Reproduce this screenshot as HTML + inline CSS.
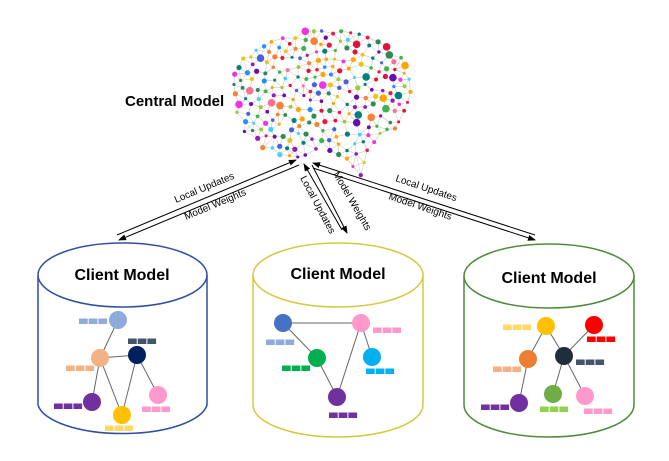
<!DOCTYPE html>
<html><head><meta charset="utf-8"><style>
html,body{margin:0;padding:0;background:#fff;width:669px;height:461px;overflow:hidden}
svg{display:block;font-family:"Liberation Sans",sans-serif}
</style></head><body>
<svg id="s" width="669" height="461" viewBox="0 0 669 461" xmlns="http://www.w3.org/2000/svg">
<defs>
<marker id="ah" markerWidth="8" markerHeight="8" refX="7" refY="4" orient="auto" markerUnits="userSpaceOnUse"><path d="M0,1 L8,4 L0,7 Z" fill="#000"/></marker>
</defs>
<g id="brain"></g>
<text x="125" y="106" font-size="15" font-weight="bold">Central Model</text>

<g stroke="#000" stroke-width="1" fill="none">
<line x1="117" y1="235" x2="296" y2="160" marker-end="url(#ah)"/>
<line x1="299" y1="165" x2="119" y2="240" marker-end="url(#ah)"/>
<line x1="342" y1="230" x2="304" y2="164" marker-end="url(#ah)"/>
<line x1="312" y1="165" x2="347" y2="233" marker-end="url(#ah)"/>
<line x1="535" y1="235" x2="313" y2="163" marker-end="url(#ah)"/>
<line x1="313" y1="168" x2="535" y2="240" marker-end="url(#ah)"/>
</g>
<g font-size="10" fill="#000">
<text transform="translate(176,203) rotate(-22.7)">Local Updates</text>
<text transform="translate(186,220) rotate(-22.7)">Model Weights</text>
<text transform="translate(300,178) rotate(62)">Local Updates</text>
<text transform="translate(333,174) rotate(60)">Model Weights</text>
<text transform="translate(395,181) rotate(18.5)">Local Updates</text>
<text transform="translate(388,199) rotate(18.5)">Model Weights</text>
</g>

<g fill="#fff" stroke-width="1.5">
<path d="M38,275 V405 A85,32 0 0 0 207,405 V275" stroke="#2f4f9f"/>
<ellipse cx="122.5" cy="275" rx="84.5" ry="32" stroke="#2f4f9f"/>
<path d="M253,275 V405 A85,32 0 0 0 423,405 V275" stroke="#d8c840"/>
<ellipse cx="338" cy="275" rx="85" ry="32" stroke="#d8c840"/>
<path d="M464,276 V405 A85,32 0 0 0 634,405 V276" stroke="#4f8a3a"/>
<ellipse cx="549" cy="276" rx="85" ry="32" stroke="#4f8a3a"/>
</g>
<g font-size="16" font-weight="bold" text-anchor="middle">
<text x="122" y="280">Client Model</text>
<text x="338" y="279">Client Model</text>
<text x="549" y="283">Client Model</text>
</g>

<g stroke="#666" stroke-width="1">
<line x1="118" y1="320" x2="100" y2="358"/><line x1="100" y1="358" x2="137" y2="355"/>
<line x1="100" y1="358" x2="92" y2="402"/><line x1="100" y1="358" x2="122" y2="415"/>
<line x1="137" y1="355" x2="122" y2="415"/><line x1="137" y1="355" x2="158" y2="395"/>
<line x1="283" y1="323" x2="361" y2="323"/><line x1="283" y1="323" x2="317" y2="358"/>
<line x1="317" y1="358" x2="337" y2="397"/><line x1="361" y1="323" x2="337" y2="397"/>
<line x1="361" y1="323" x2="372" y2="357"/>
<line x1="546" y1="326" x2="528" y2="359"/><line x1="546" y1="326" x2="564" y2="356"/>
<line x1="594" y1="325" x2="564" y2="356"/><line x1="528" y1="359" x2="519" y2="403"/>
<line x1="564" y1="356" x2="553" y2="394"/><line x1="564" y1="356" x2="585" y2="396"/>
</g>
<g id="nodes"></g>
</svg>
<script>
var NS="http://www.w3.org/2000/svg";
function el(p,t,a){var e=document.createElementNS(NS,t);for(var k in a)e.setAttribute(k,a[k]);p.appendChild(e);return e;}
var nodes=document.getElementById('nodes');
var N=[[118,320,'#8faadc'],[100,358,'#f4b183'],[137,355,'#002060'],[92,402,'#7030a0'],[122,415,'#ffc000'],[158,395,'#ff99cc'],
[283,323,'#4472c4'],[361,323,'#ff99cc'],[317,358,'#00b050'],[372,357,'#00b0f0'],[337,397,'#7030a0'],
[546,326,'#ffc000'],[594,325,'#ff0000'],[528,359,'#ed7d31'],[564,356,'#1f2d3d'],[519,403,'#7030a0'],[553,394,'#70ad47'],[585,396,'#ff99cc']];
N.forEach(function(n){el(nodes,'circle',{cx:n[0],cy:n[1],r:9,fill:n[2]});});
var B=[[79,321,'#8faadc'],[128,341,'#44546a'],[66,368,'#f4b183'],[54,406,'#7030a0'],[105,428,'#ffd966'],[142,409,'#ff99cc'],
[266,342,'#8faadc'],[373,330,'#ff99cc'],[282,368,'#00b050'],[366,371,'#00b0f0'],[329,415,'#7030a0'],
[503,327,'#ffd966'],[587,339,'#ff0000'],[493,369,'#f4b183'],[576,362,'#44546a'],[481,407,'#7030a0'],[540,409,'#92d050'],[584,411,'#ff99cc']];
B.forEach(function(b){for(var i=0;i<3;i++)el(nodes,'rect',{x:b[0]+i*9.7,y:b[1]-2.5,width:8.7,height:5.5,fill:b[2]});});
var poly=[[270,38],[320,28],[370,35],[400,55],[412,80],[409,110],[396,130],[378,142],[366,152],[362,176],[352,170],[342,156],[320,152],[302,158],[282,156],[262,149],[245,133],[234,110],[230,88],[237,65],[252,48]];
function inside(x,y){var c=false;for(var i=0,j=poly.length-1;i<poly.length;j=i++){var xi=poly[i][0],yi=poly[i][1],xj=poly[j][0],yj=poly[j][1];
 if(((yi>y)!=(yj>y))&&(x<(xj-xi)*(y-yi)/(yj-yi)+xi))c=!c;}return c;}
var seed=7;function r(){seed=(seed*16807)%2147483647;return seed/2147483647;}
var P=[];var tries=0;
while(P.length<340&&tries<30000){tries++;var x=228+r()*188,y=26+r()*152;if(!inside(x,y))continue;
 var ok=true;for(var i=0;i<P.length;i++){var a=P[i][0]-x,b=P[i][1]-y;if(a*a+b*b<56){ok=false;break;}}if(ok)P.push([x,y]);}
var g=document.getElementById('brain');
var cols=['#e6194b','#3cb44b','#f58231','#4363d8','#911eb4','#42d4f4','#f032e6','#e6c619','#ff6f91','#008080','#1e90ff','#ffa500','#dc143c','#2e8b57','#9acd32','#6a0dad'];
P.forEach(function(p,i){var d=[];P.forEach(function(q,j){if(j!==i){var a=p[0]-q[0],b=p[1]-q[1];d.push([a*a+b*b,j]);}});d.sort(function(u,v){return u[0]-v[0];});
 for(var k=0;k<4;k++){var q=P[d[k][1]];if(d[k][1]>i||k>=2)el(g,'line',{x1:p[0],y1:p[1],x2:q[0],y2:q[1],stroke:'#d6cfc8','stroke-width':0.6});}});
P.forEach(function(p){var rr=r();var rad=rr<0.7?1.5+r()*0.7:(rr<0.92?2.6:3.8);el(g,'circle',{cx:p[0],cy:p[1],r:rad,fill:cols[Math.floor(r()*cols.length)]});});
</script>
</body></html>
